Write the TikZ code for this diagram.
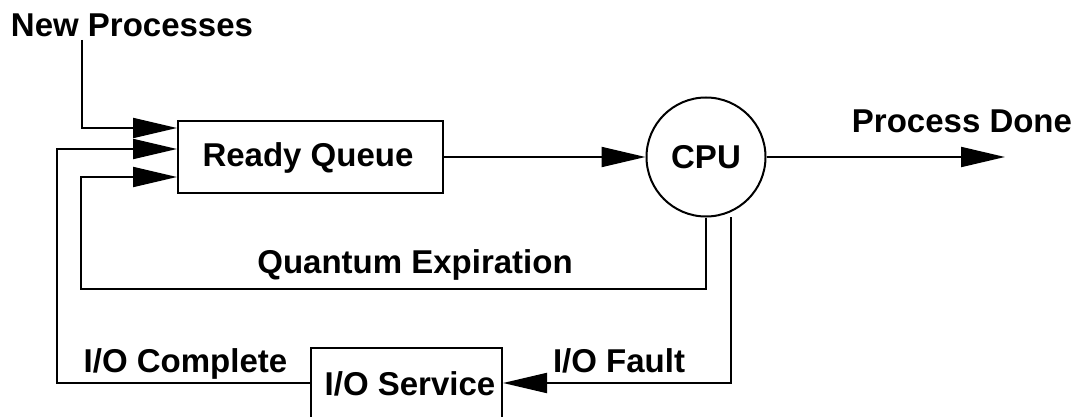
\documentclass[tikz,border=0pt]{standalone}
\usepackage{fontspec}
\setmainfont{Liberation Sans}
\usetikzlibrary{arrows.meta,calc}
\begin{document}
\begin{tikzpicture}[x=1pt,y=-1pt,
  line width=2pt,
  lbl/.style={font=\fontsize{33}{40}\selectfont\bfseries, inner sep=0pt, anchor=base},
  arr/.style={-{Triangle[length=44pt,width=20pt]}},
  boxst/.style={draw, rectangle, inner sep=0pt},
]
\useasboundingbox (0,0) rectangle (1076,417);
\clip (0,0) rectangle (1076,417);
% nodes
\node[boxst, minimum width=265pt, minimum height=72pt] (rq) at (310.5,157) {};
\node[draw, circle, minimum size=119pt, inner sep=0pt] (cpu) at (706,157) {};
\node[boxst, minimum width=191pt, minimum height=100pt] (io) at (406.5,398) {};
% labels
\node[lbl] (lrq) at (308,166) {Ready Queue};
\node[lbl] (lcpu) at (706,168) {CPU};
\node[lbl] (lnp) at (132,37) {New Processes};
\node[lbl] (lpd) at (962,133) {Process Done};
\node[lbl] (lqe) at (415,273) {Quantum Expiration};
\node[lbl] (lioc) at (185.5,372) {I/O Complete};
\node[lbl] (lios) at (410,395) {I/O Service};
\node[lbl] (liof) at (619,372) {I/O Fault};
% coordinates
\coordinate (np) at (82,40);
\coordinate (cpuo) at (731,217);
\coordinate (done) at (1005,157);
\coordinate (ioL) at ($(io.west)+(0,-15)$);
\coordinate (ioR) at ($(io.east)+(0,-15)$);
% connectors
\draw[arr] (np) |- ($(rq.west)+(0,-29)$);
\draw[arr] (ioL) -| ($(rq.west)+(-120,-8)$) -- ($(rq.west)+(0,-8)$);
\draw[arr] (cpu.south) -- ++(0,71.5) -| ($(rq.west)+(-96,20)$) -- ($(rq.west)+(0,20)$);
\draw[arr] (rq.east) -- (cpu.west);
\draw[arr] (cpu.east) -- (done);
\draw[arr] (cpuo) |- (ioR);
\end{tikzpicture}
\end{document}
